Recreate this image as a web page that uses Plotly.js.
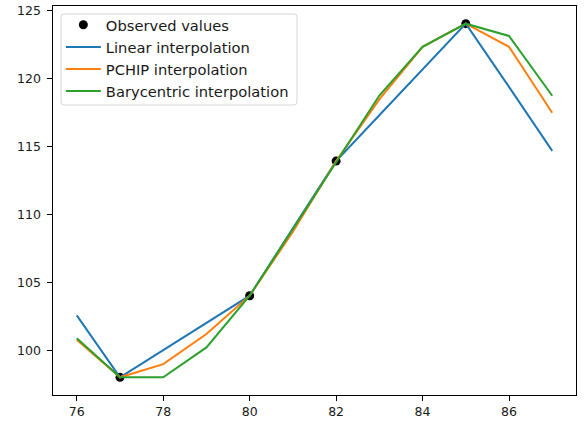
<!DOCTYPE html>
<html>
<head>
<meta charset="utf-8">
<script src="https://cdn.plot.ly/plotly-3.0.1.min.js"></script>
<style>html,body{margin:0;padding:0;background:#fff;}#chart{width:584px;height:423px;}</style>
</head>
<body>
<div id="chart"></div>
<script>
const obsX = [77, 80, 82, 85];
const obsY = [98.0, 104.0, 113.9, 124.0];
const gridX = [76, 77, 78, 79, 80, 81, 82, 83, 84, 85, 86, 87];
const linearY = [102.55, 98.0, 100.0, 102.0, 104.0, 108.95, 113.9, 117.27, 120.63, 124.0, 119.35, 114.65];
const pchipY = [100.76, 98.0, 98.97, 101.18, 104.0, 108.7, 113.9, 118.44, 122.3, 124.0, 122.3, 117.45];
const baryY = [100.88, 98.0, 98.0, 100.2, 104.0, 108.9, 113.9, 118.72, 122.3, 124.0, 123.1, 118.7];
const xTicks = [76, 78, 80, 82, 84, 86];
const yTicks = [100, 105, 110, 115, 120, 125];

const tickFont = {family: 'DejaVu Sans, sans-serif', size: 12.5, color: '#1a1a1a'};
const legendFont = {family: 'DejaVu Sans, sans-serif', size: 14.7, color: '#1a1a1a'};
const traces = [
  {x: obsX, y: obsY, mode: 'markers', name: 'Observed values',
   marker: {color: '#000', size: 9}},
  {x: gridX, y: linearY, mode: 'lines', name: 'Linear interpolation',
   line: {color: '#1f77b4', width: 2}},
  {x: gridX, y: pchipY, mode: 'lines', name: 'PCHIP interpolation',
   line: {color: '#ff7f0e', width: 2}},
  {x: gridX, y: baryY, mode: 'lines', name: 'Barycentric interpolation',
   line: {color: '#2ca02c', width: 2}}
];
const axisCommon = {
  showgrid: false, zeroline: false, showline: true, mirror: true,
  linecolor: '#000', linewidth: 1, ticks: 'outside', ticklen: 5,
  tickcolor: '#000', tickwidth: 1, tickfont: tickFont
};
// legend frame (rounded box) in paper coords
const PW = 523, PH = 389;
const bx0 = 8 / PW, bx1 = 244 / PW, by1 = 1 - 8 / PH, by0 = 1 - 99 / PH;
const rx = 3 / PW, ry = 3 / PH;
const framePath = `M ${bx0 + rx} ${by1} L ${bx1 - rx} ${by1} Q ${bx1} ${by1} ${bx1} ${by1 - ry} ` +
  `L ${bx1} ${by0 + ry} Q ${bx1} ${by0} ${bx1 - rx} ${by0} L ${bx0 + rx} ${by0} ` +
  `Q ${bx0} ${by0} ${bx0} ${by0 + ry} L ${bx0} ${by1 - ry} Q ${bx0} ${by1} ${bx0 + rx} ${by1} Z`;
const yLabelAnnotations = yTicks.map(v => ({
  text: String(v), xref: 'paper', yref: 'y', x: 0, y: v,
  xanchor: 'right', yanchor: 'middle', xshift: -11, showarrow: false,
  font: tickFont, borderpad: 0
}));
const layout = {
  width: 584, height: 423,
  margin: {l: 53, r: 8, t: 6, b: 28},
  paper_bgcolor: '#fff', plot_bgcolor: '#fff',
  font: tickFont,
  showlegend: true,
  legend: {x: 0.015, y: 0.993, xanchor: 'left', yanchor: 'top',
    bgcolor: 'rgba(0,0,0,0)', borderwidth: 0,
    font: legendFont, tracegroupgap: 0, itemwidth: 35},
  shapes: [{type: 'path', xref: 'paper', yref: 'paper', path: framePath,
    line: {color: '#d6d6d6', width: 1}, fillcolor: 'rgba(255,255,255,0.8)', layer: 'above'}],
  annotations: yLabelAnnotations,
  xaxis: Object.assign({}, axisCommon, {range: [75.45, 87.55], tickvals: xTicks,
    ticktext: xTicks.map(String)}),
  yaxis: Object.assign({}, axisCommon, {range: [96.7, 125.3], tickvals: yTicks,
    showticklabels: false})
};
Plotly.newPlot('chart', traces, layout, {displayModeBar: false, staticPlot: true});
</script>
</body>
</html>
